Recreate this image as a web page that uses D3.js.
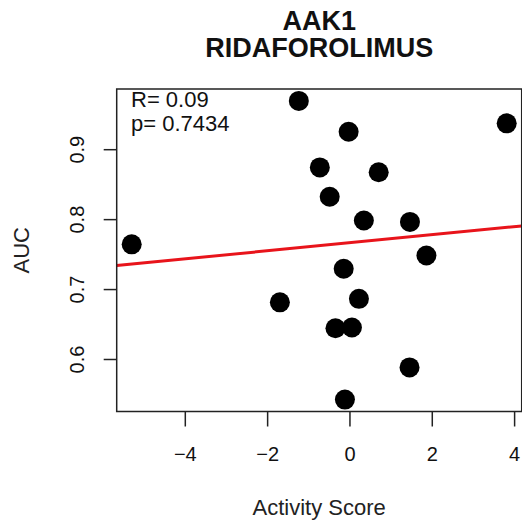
<!DOCTYPE html>
<html>
<head>
<meta charset="utf-8">
<script src="https://cdn.jsdelivr.net/npm/d3@7"></script>
<style>
  body { margin: 0; background: #fff; }
  svg { display: block; font-family: "Liberation Sans", Arial, sans-serif; }
</style>
</head>
<body>
<svg class="graph" width="522" height="526"></svg>
<script>
var title = ['AAK1', 'RIDAFOROLIMUS']
var xLabel = 'Activity Score'
var yLabel = 'AUC'
var stats = ['R= 0.09', 'p= 0.7434']

var activity = [-1.23, 3.82, -0.02, -0.72, 0.71, -0.48, 0.35, 1.47, -5.29, 1.87, -0.14, -1.69, 0.23, -0.34, 0.06, 1.46, -0.11]
var auc = [0.969, 0.937, 0.925, 0.874, 0.867, 0.832, 0.798, 0.796, 0.764, 0.748, 0.729, 0.681, 0.686, 0.644, 0.645, 0.588, 0.542]

var xTicks = [-4, -2, 0, 2, 4]
var yTicks = [0.6, 0.7, 0.8, 0.9]

var box = { left: 116.7, right: 521.7, top: 89, bottom: 411.5 }
var svg = d3.select('.graph')

// R style limits: data range padded by 4% each side
function rlim(v) {
  var e = d3.extent(v), pad = (e[1] - e[0]) * 0.04
  return [e[0] - pad, e[1] + pad]
}

var x = d3.scaleLinear().domain(rlim(activity)).range([box.left, box.right])
var y = d3.scaleLinear().domain(rlim(auc)).range([box.bottom, box.top])

var points = activity.map(function (a, i) { return { x: a, y: auc[i] } })

// least squares fit for the red line
var mx = d3.mean(activity), my = d3.mean(auc)
var slope = d3.sum(points, function (d) { return (d.x - mx) * (d.y - my) })
          / d3.sum(points, function (d) { return (d.x - mx) * (d.x - mx) })
var intercept = my - slope * mx

svg.append('defs').append('clipPath').attr('id', 'plotclip')
  .append('rect')
  .attr('x', box.left).attr('y', box.top)
  .attr('width', box.right - box.left).attr('height', box.bottom - box.top)

svg.append('g')
  .selectAll('circle')
  .data(points)
  .join('circle')
  .attr('cx', function (d) { return x(d.x) })
  .attr('cy', function (d) { return y(d.y) })
  .attr('r', 10)
  .attr('fill', '#000')

var xd = x.domain()
svg.append('line')
  .attr('clip-path', 'url(#plotclip)')
  .attr('x1', x(xd[0])).attr('y1', y(intercept + slope * xd[0]))
  .attr('x2', x(xd[1])).attr('y2', y(intercept + slope * xd[1]))
  .attr('stroke', '#e8141b')
  .attr('stroke-width', 3)

svg.append('rect')
  .attr('x', box.left).attr('y', box.top)
  .attr('width', box.right - box.left).attr('height', box.bottom - box.top)
  .attr('fill', 'none')
  .attr('stroke', '#222')
  .attr('stroke-width', 1.5)

var xAxis = svg.append('g')
  .attr('transform', 'translate(0,' + box.bottom + ')')
  .call(d3.axisBottom(x).tickValues(xTicks).tickSize(15).tickPadding(20).tickSizeOuter(0))
xAxis.select('.domain').remove()
xAxis.selectAll('line').attr('stroke', '#222').attr('stroke-width', 1.5)
xAxis.selectAll('text')
  .attr('font-size', 20)
  .attr('fill', '#111')
  .attr('font-family', '"Liberation Sans", Arial, sans-serif')

var yAxis = svg.append('g')
  .attr('transform', 'translate(' + box.left + ',0)')
  .call(d3.axisLeft(y).tickValues(yTicks).tickFormat(d3.format('.1f')).tickSize(13).tickSizeOuter(0))
yAxis.select('.domain').remove()
yAxis.selectAll('line').attr('stroke', '#222').attr('stroke-width', 1.5)
yAxis.selectAll('text')
  .attr('font-size', 20)
  .attr('fill', '#111')
  .attr('font-family', '"Liberation Sans", Arial, sans-serif')
  .attr('text-anchor', 'middle')
  .attr('dy', 0)
  .attr('x', 0)
  .attr('transform', 'translate(-33,0) rotate(-90)')

svg.selectAll('.title')
  .data(title)
  .join('text')
  .attr('class', 'title')
  .attr('x', (box.left + box.right) / 2)
  .attr('y', function (d, i) { return 30 + i * 26.7 })
  .attr('text-anchor', 'middle')
  .attr('font-size', 27)
  .attr('font-weight', 'bold')
  .attr('fill', '#111')
  .text(function (d) { return d })

svg.append('text')
  .attr('x', (box.left + box.right) / 2)
  .attr('y', 515)
  .attr('text-anchor', 'middle')
  .attr('font-size', 22)
  .attr('fill', '#222')
  .text(xLabel)

svg.append('text')
  .attr('transform', 'translate(29,' + (box.top + box.bottom) / 2 + ') rotate(-90)')
  .attr('text-anchor', 'middle')
  .attr('font-size', 22)
  .attr('fill', '#222')
  .text(yLabel)

svg.selectAll('.stat')
  .data(stats)
  .join('text')
  .attr('class', 'stat')
  .attr('x', 131)
  .attr('y', function (d, i) { return 107.3 + i * 23.7 })
  .attr('font-size', 22)
  .attr('fill', '#111')
  .text(function (d) { return d })
</script>
</body>
</html>
